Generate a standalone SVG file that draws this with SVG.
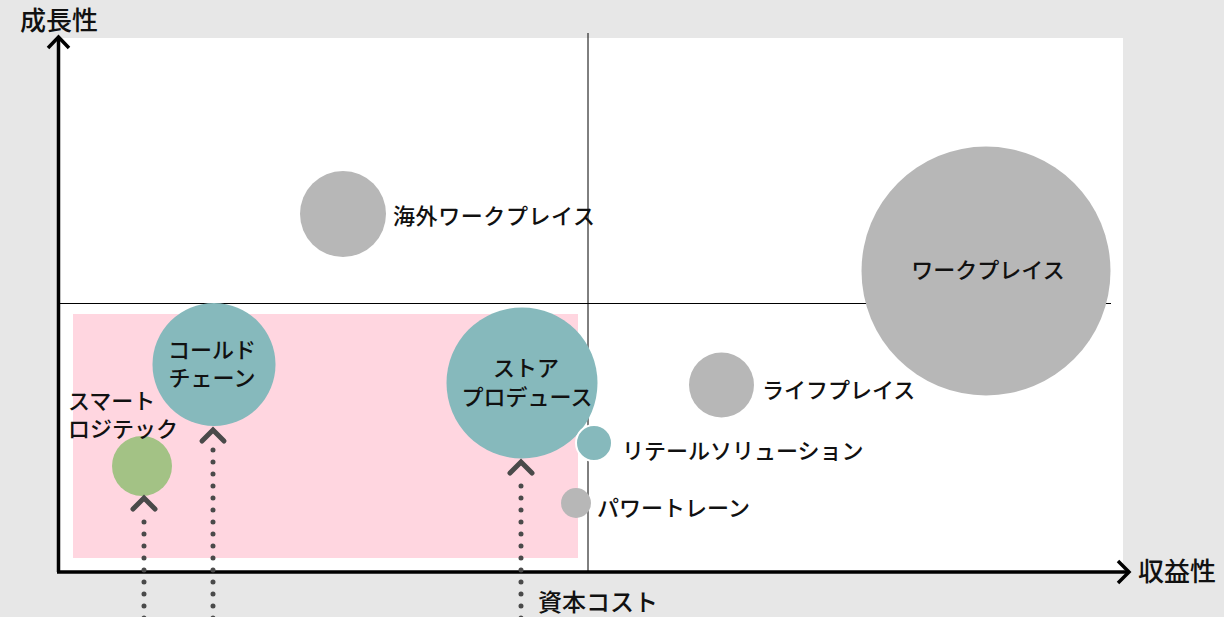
<svg xmlns="http://www.w3.org/2000/svg" width="1224" height="617" viewBox="0 0 1224 617">
<style>
text{font-family:"Noto Sans CJK JP","Noto Sans",sans-serif;fill:#111;font-size:22px;font-weight:500}
.ax{font-size:26px;font-weight:500}
.cost{font-size:24px}
.gray{fill:#b7b7b7}
.teal{fill:#86b9bc}
.green{fill:#a3c285}
.dot{stroke:#4a4a4a;stroke-width:5;stroke-linecap:round;stroke-dasharray:0 12;fill:none}
.chev{stroke:#4a4a4a;stroke-width:5;fill:none;stroke-linecap:round;stroke-linejoin:miter}
.axis{stroke:#000;stroke-width:3.5;fill:none}
.grid{stroke:#000;stroke-width:1;fill:none}
</style>
<rect x="0" y="0" width="1224" height="617" fill="#e7e7e7"/>
<rect x="58" y="38" width="1065" height="534" fill="#fff"/>
<rect id="zone" x="73" y="314" width="505" height="244" fill="#ffd6e0"/>
<g id="grid">
<line class="grid" x1="588" y1="33" x2="588" y2="572"/>
<line class="grid" x1="58" y1="303.5" x2="1111" y2="303.5"/>
</g>
<g id="axes">
<path class="axis" d="M58.5 572 V38"/>
<path class="axis" d="M48 48 L58.5 37 L69 48"/>
<path class="axis" d="M57 572 H1128"/>
<path class="axis" d="M1118 561 L1129 572 L1118 583"/>
<text class="ax" x="20" y="30">成長性</text>
<text class="ax" x="1138" y="581">収益性</text>
<text class="cost" x="538" y="611">資本コスト</text>
</g>
<g id="node-kaigai">
<circle class="gray" cx="343" cy="214" r="43"/>
<text x="393" y="224" textLength="202">海外ワークプレイス</text>
</g>
<g id="node-workplace">
<circle class="gray" cx="986" cy="271" r="124.5"/>
<text x="988" y="278" text-anchor="middle">ワークプレイス</text>
</g>
<g id="node-coldchain">
<circle class="teal" cx="214" cy="364.5" r="61.5"/>
<text x="212" y="358" text-anchor="middle">コールド</text>
<text x="212" y="386" text-anchor="middle">チェーン</text>
</g>
<g id="node-smartlogi">
<circle class="green" cx="142" cy="466" r="30"/>
<text x="68" y="409">スマート</text>
<text x="68" y="437">ロジテック</text>
</g>
<g id="node-store">
<circle class="teal" cx="522" cy="383" r="75.5"/>
<text x="526" y="376" text-anchor="middle">ストア</text>
<text x="527" y="405" text-anchor="middle">プロデュース</text>
</g>
<g id="node-retail">
<circle class="teal" cx="594" cy="443" r="18" stroke="#fff" stroke-width="2"/>
<text x="622" y="459">リテールソリューション</text>
</g>
<g id="node-power">
<circle class="gray" cx="576" cy="503" r="15"/>
<text x="597" y="516">パワートレーン</text>
</g>
<g id="node-life">
<circle class="gray" cx="721.5" cy="385" r="32.5"/>
<text x="762" y="398">ライフプレイス</text>
</g>
<g id="connectors">
<path class="dot" d="M144 618 V510"/>
<path class="chev" d="M133 509 L144 498 L155 509"/>
<path class="dot" d="M213 618 V444"/>
<path class="chev" d="M202 441 L213 430 L224 441"/>
<path class="dot" d="M521 618 V474"/>
<path class="chev" d="M510 473 L521 462 L532 473"/>
</g>
</svg>
